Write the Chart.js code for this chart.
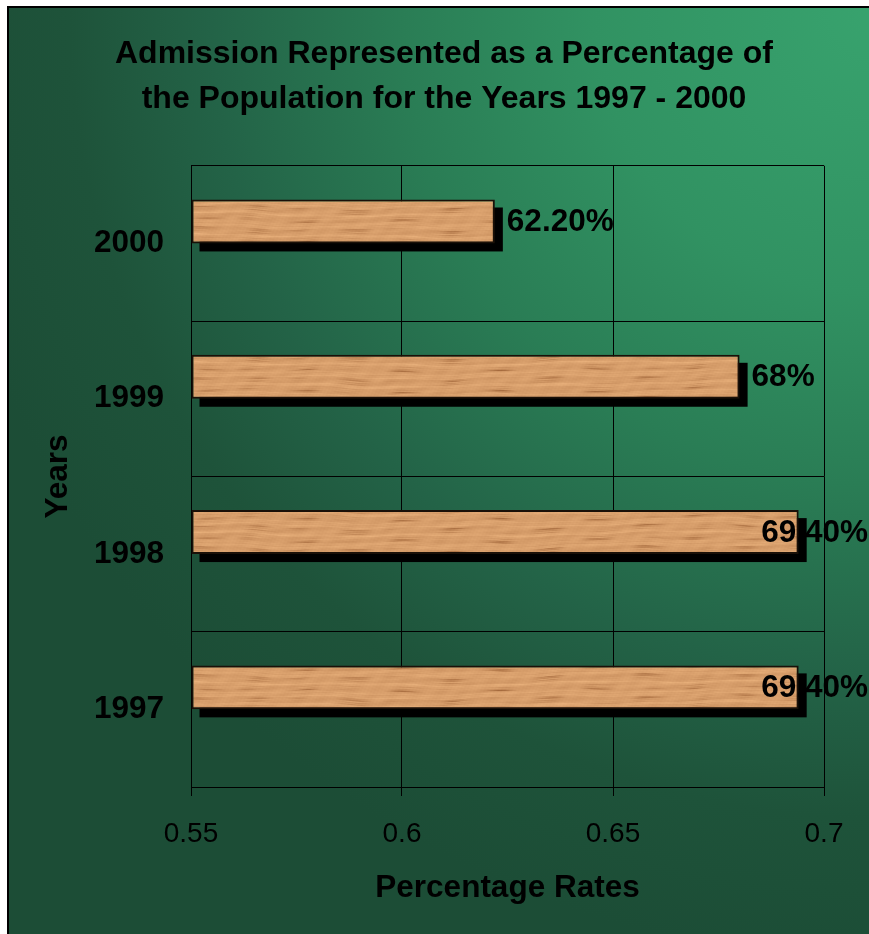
<!DOCTYPE html>
<html>
<head>
<meta charset="utf-8">
<title>Admission Rates 1997 - 2000</title>
<script src="https://cdn.jsdelivr.net/npm/chart.js@4/dist/chart.umd.min.js"></script>
<style>
  html, body { margin: 0; padding: 0; background: #fff; overflow: hidden; width: 869px; height: 934px; }
  #frame { position: absolute; left: 7px; top: 6px; border-top: 2px solid #000; border-left: 2px solid #000; width: 870px; height: 926px; }
  #frame canvas { display: block; }
</style>
</head>
<body>
<div id="frame"><canvas id="chart" width="870" height="926"></canvas></div>
<script>
// Admission rates by year (top to bottom on the chart)
const years = ['2000', '1999', '1998', '1997'];
const admissionRates = [0.622, 0.68, 0.694, 0.694];
const rateLabels = ['62.20%', '68%', '69.40%', '69.40%'];

// Value axis
const rateMin = 0.55;
const rateMax = 0.7;
const rateStep = 0.05;
const rateTicks = ['0.55', '0.6', '0.65', '0.7'];

const FONT = "'Liberation Sans', Arial, Helvetica, sans-serif";
const BOLD = { family: FONT, size: 31.5, weight: 'bold', lineHeight: 1.2 };

const canvas = document.getElementById('chart');
const ctx2d = canvas.getContext('2d');

// Wood-grain fill for the bars: a seamless repeating tile with long horizontal streaks
function makeWoodPattern(ctx) {
  const w = 640, h = 64;
  const kx = 2 * Math.PI / w, ky = 2 * Math.PI / h;
  const tile = document.createElement('canvas');
  tile.width = w; tile.height = h;
  const g = tile.getContext('2d');
  const img = g.createImageData(w, h);
  const clamp = v => Math.max(0, Math.min(255, Math.round(v)));
  for (let y = 0; y < h; y++) {
    for (let x = 0; x < w; x++) {
      const warp = 2.2 * Math.sin(x * kx * 1 + 0.7) + 1.2 * Math.sin(x * kx * 3 + y * ky + 0.3)
                 + 0.6 * Math.sin(x * kx * 8 + 2.0);
      const yy = y + warp;
      const grain = 0.5 * Math.sin(yy * ky * 6) + 0.3 * Math.sin(yy * ky * 15 + 1.1)
                  + 0.2 * Math.sin(yy * ky * 34 + 0.4);
      const env = (0.5 + 0.5 * Math.sin(x * kx * 7 + yy * ky * 3))
                * (0.5 + 0.5 * Math.sin(x * kx * 13 + 1.7));
      const dark = Math.max(0, -grain) * env * 2.0;
      const light = Math.max(0, grain) * 0.5;
      const mottle = 0.16 * Math.sin(x * kx * 19 + yy * ky * 5) * Math.sin(x * kx * 11 - y * ky * 2)
                   + 0.1 * Math.sin(x * kx * 5 + y * ky * 9 + 0.8);
      const fleck = 0.08 * Math.sin(x * kx * 133 + y * ky * 27) * Math.sin(x * kx * 54 - y * ky * 19);
      const v = light - dark + mottle + fleck;
      const i = (y * w + x) * 4;
      img.data[i] = clamp(214 + 24 * v);
      img.data[i + 1] = clamp(157 + 25 * v);
      img.data[i + 2] = clamp(106 + 22 * v);
      img.data[i + 3] = 255;
    }
  }
  g.putImageData(img, 0, 0);
  return ctx.createPattern(tile, 'repeat');
}
const woodFill = makeWoodPattern(ctx2d);

// Green backdrop, brightest in the upper right corner
const backdrop = {
  id: 'backdrop',
  beforeDraw(chart) {
    const { ctx, width, height } = chart;
    const r = Math.hypot(width, height) * 0.75;
    const grad = ctx.createRadialGradient(width, 0, 0, width, 0, r);
    grad.addColorStop(0, '#38a36e');
    grad.addColorStop(0.3, '#319262');
    grad.addColorStop(0.5, '#2a7d55');
    grad.addColorStop(0.7, '#236347');
    grad.addColorStop(0.85, '#1e533a');
    grad.addColorStop(1, '#1c4d36');
    ctx.save();
    ctx.fillStyle = grad;
    ctx.fillRect(0, 0, width, height);
    ctx.restore();
  }
};

// Solid drop shadow behind each bar
const barShadow = {
  id: 'barShadow',
  beforeDatasetsDraw(chart) {
    const meta = chart.getDatasetMeta(0);
    const { ctx } = chart;
    ctx.save();
    ctx.fillStyle = '#000';
    meta.data.forEach(bar => {
      const { x, y, base, height } = bar.getProps(['x', 'y', 'base', 'height'], true);
      const left = Math.min(x, base);
      ctx.fillRect(left + 8, y - height / 2 + 8, Math.abs(x - base), height);
    });
    ctx.restore();
  }
};

// Value labels to the right of each bar, kept inside the canvas
const valueLabels = {
  id: 'valueLabels',
  afterDatasetsDraw(chart) {
    const meta = chart.getDatasetMeta(0);
    const { ctx } = chart;
    ctx.save();
    ctx.font = `bold ${BOLD.size}px ${FONT}`;
    ctx.fillStyle = '#000';
    ctx.textBaseline = 'middle';
    ctx.textAlign = 'left';
    meta.data.forEach((bar, i) => {
      const text = rateLabels[i];
      const w = ctx.measureText(text).width;
      const tx = Math.min(bar.x + 12, chart.width - 11 - w);
      ctx.fillText(text, tx, bar.y + 1);
    });
    ctx.restore();
  }
};

new Chart(canvas, {
  type: 'bar',
  data: {
    labels: years,
    datasets: [
      {
        label: 'Admission rate',
        data: admissionRates,
        base: rateMin,
        backgroundColor: woodFill,
        borderColor: '#1a1008',
        borderWidth: 2,
        borderSkipped: false,
        categoryPercentage: 0.566,
        barPercentage: 1
      },
      {
        // empty slot that keeps each bar in the upper half of its row
        label: '',
        data: [],
        categoryPercentage: 0.566,
        barPercentage: 1
      }
    ]
  },
  options: {
    indexAxis: 'y',
    responsive: false,
    animation: false,
    devicePixelRatio: 1,
    layout: { padding: 0 },
    plugins: {
      legend: { display: false },
      tooltip: { enabled: false },
      title: {
        display: true,
        text: ['Admission Represented as a Percentage of', 'the Population for the Years 1997 - 2000'],
        color: '#000',
        font: { family: FONT, size: 32, weight: 'bold', lineHeight: 1.4 },
        padding: { top: 24, bottom: 44.2 }
      }
    },
    scales: {
      x: {
        type: 'linear',
        min: rateMin,
        max: rateMax,
        ticks: {
          stepSize: rateStep,
          color: '#000',
          font: { family: FONT, size: 28, lineHeight: 1.2 },
          padding: 21,
          maxRotation: 0,
          autoSkip: false,
          callback: (value, index) => rateTicks[index]
        },
        grid: { color: '#000', lineWidth: 1, tickLength: 9, drawTicks: true },
        border: { color: '#000', width: 1 },
        title: {
          display: true,
          text: 'Percentage Rates',
          color: '#000',
          font: BOLD,
          padding: { top: 0, bottom: 27 }
        },
        afterFit(scale) { scale.height = 147; }
      },
      y: {
        type: 'category',
        ticks: { color: '#000', font: BOLD, padding: 27 },
        grid: { color: '#000', lineWidth: 1, drawTicks: false, offset: true },
        border: { color: '#000', width: 1 },
        title: {
          display: true,
          text: 'Years',
          color: '#000',
          font: BOLD,
          padding: { top: 30, bottom: 0 }
        },
        afterFit(scale) { scale.width = 182; }
      },
      yRight: {
        type: 'category',
        position: 'right',
        display: true,
        ticks: { display: false },
        grid: { display: false },
        border: { display: false },
        afterFit(scale) { scale.width = 55; }
      }
    }
  },
  plugins: [backdrop, barShadow, valueLabels]
});
</script>
</body>
</html>
